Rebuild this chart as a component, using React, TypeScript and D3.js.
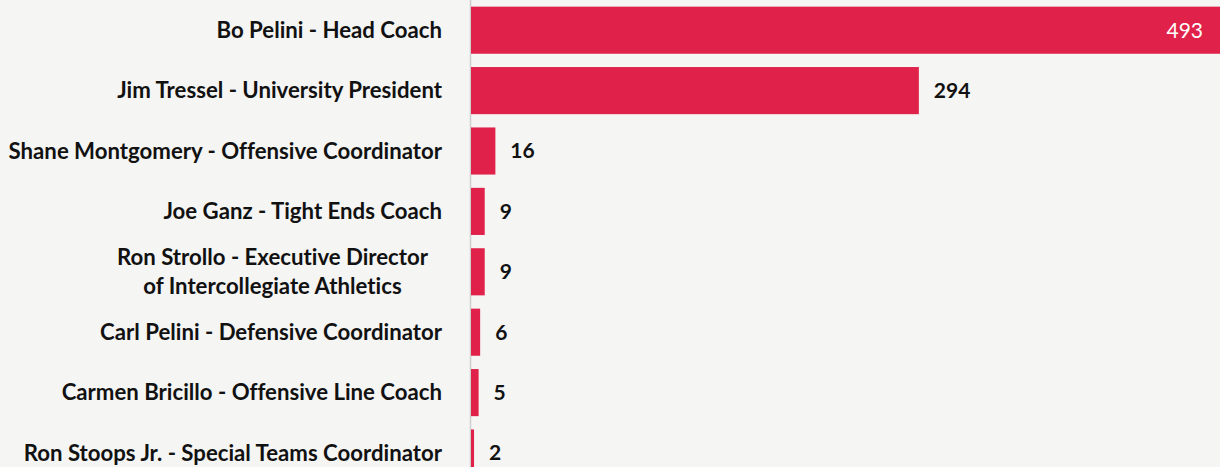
import { useEffect, useRef } from 'react';
import * as d3 from 'd3';

const NAMES = [
  "Bo Pelini - Head Coach",
  "Jim Tressel - University President",
  "Shane Montgomery - Offensive Coordinator",
  "Joe Ganz - Tight Ends Coach",
  "Ron Strollo - Executive Director\nof Intercollegiate Athletics",
  "Carl Pelini - Defensive Coordinator",
  "Carmen Bricillo - Offensive Line Coach",
  "Ron Stoops Jr. - Special Teams Coordinator",
];
const COUNTS = [493, 294, 16, 9, 9, 6, 5, 2];

const W = 1220;
const H = 467;
const BAR = "#e0224a";
const FONT = "Lato, 'Open Sans', sans-serif";

export default function App() {
  const svgRef = useRef<SVGSVGElement | null>(null);

  useEffect(() => {
    if (!svgRef.current) return;
    const svg = d3.select(svgRef.current);
    svg.selectAll("*").remove();

    const rows = NAMES.map((name, i) => ({ name, count: COUNTS[i] }));
    const x0 = 471;
    const x = d3.scaleLinear().domain([0, 493]).range([x0, x0 + 751]);
    const y = d3.scaleBand<string>()
      .domain(NAMES)
      .range([0, 483.2])
      .paddingInner(0.22)
      .paddingOuter(0.11);

    svg.append("rect").attr("width", W).attr("height", H).attr("fill", "#f5f5f4");

    // axis line
    svg.append("line")
      .attr("x1", x0 - 0.5).attr("x2", x0 - 0.5)
      .attr("y1", 0).attr("y2", H)
      .attr("stroke", "#cfcfcf").attr("stroke-width", 1.5);

    svg.selectAll("rect.bar").data(rows).join("rect")
      .attr("class", "bar")
      .attr("x", x0)
      .attr("y", d => y(d.name)!)
      .attr("width", d => x(d.count) - x0)
      .attr("height", y.bandwidth())
      .attr("fill", BAR);

    // category labels, right-aligned block with centered lines
    const labels = svg.selectAll("g.lab").data(rows).join("g").attr("class", "lab");
    labels.each(function (d) {
      const g = d3.select(this);
      const lines = d.name.split("\n");
      const cy = y(d.name)! + y.bandwidth() / 2;
      const lh = 29;
      const t = g.append("text")
        .attr("font-family", FONT)
        .attr("font-weight", 700)
        .attr("font-size", 22.2)
        .style("font-variant-ligatures", "none")
        .attr("fill", "#111");
      lines.forEach((ln, k) => {
        t.append("tspan")
          .attr("y", cy + (k - (lines.length - 1) / 2) * lh)
          .attr("dy", "0.35em")
          .text(ln);
      });
      const right = 442;
      if (lines.length === 1) {
        t.attr("text-anchor", "end").selectAll("tspan").attr("x", right);
      } else {
        const spans = t.selectAll<SVGTSpanElement, unknown>("tspan").nodes();
        const wMax = d3.max(spans, s => s.getComputedTextLength()) || 0;
        t.attr("text-anchor", "middle").selectAll("tspan").attr("x", right - 14 - wMax / 2);
      }
    });

    // value labels
    svg.selectAll("text.val").data(rows).join("text")
      .attr("class", "val")
      .attr("font-family", FONT)
      .attr("font-size", 21)
      .attr("dy", "0.35em")
      .attr("y", d => y(d.name)! + y.bandwidth() / 2)
      .each(function (d, i) {
        const t = d3.select(this);
        if (i === 0) {
          t.attr("x", W - 17).attr("text-anchor", "end").attr("fill", "#fff").attr("font-weight", 400);
        } else {
          t.attr("x", x(d.count) + 15).attr("text-anchor", "start").attr("fill", "#111").attr("font-weight", 700);
        }
      })
      .text(d => d.count);
  }, []);

  return (
    <svg
      ref={svgRef}
      width={W}
      height={H}
      style={{ position: "absolute", left: 0, top: 0, display: "block" }}
    />
  );
}
